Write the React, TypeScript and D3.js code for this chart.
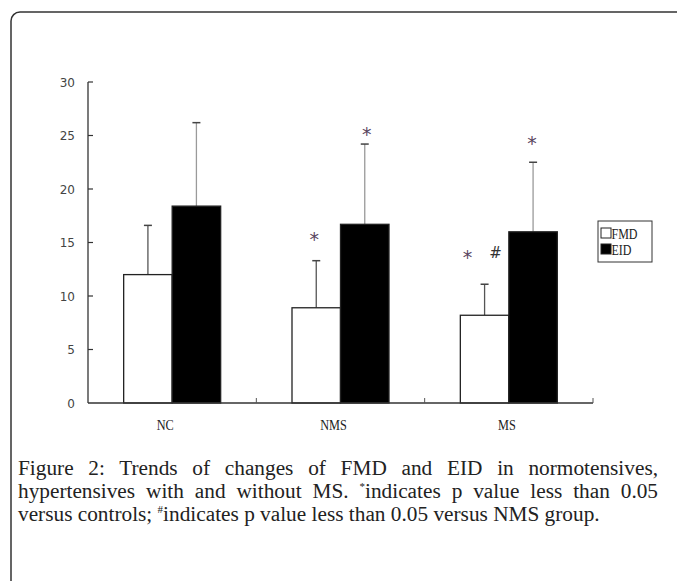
import React, { useLayoutEffect, useRef } from "react";
import * as d3 from "d3";

const categories = ["NC", "NMS", "MS"];
const seriesNames = ["FMD", "EID"];
const fmdMean = [12.0, 8.9, 8.2];
const fmdErr = [16.6, 13.3, 11.1];
const eidMean = [18.4, 16.7, 16.0];
const eidErr = [26.2, 24.2, 22.5];
const yTicks = [0, 5, 10, 15, 20, 25, 30];
// significance markers: category, series, y value (data units), symbol, pixel nudge
const marks = [
  { cat: "NMS", series: "FMD", y: 15.5, sym: "*", dx: -2 },
  { cat: "NMS", series: "EID", y: 25.3, sym: "*", dx: 2 },
  { cat: "MS", series: "FMD", y: 13.8, sym: "*", dx: -17 },
  { cat: "MS", series: "FMD", y: 14.0, sym: "#", dx: 11 },
  { cat: "MS", series: "EID", y: 24.5, sym: "*", dx: -1 },
];
const captionLines = [
  "Figure 2: Trends of changes of FMD and EID in normotensives,",
  "hypertensives with and without MS. ",
  "versus controls; ",
];

export default function App() {
  const W = 677, H = 581;
  const x0 = 88, x1 = 593, yTop = 82, yBot = 403;
  const x = d3.scaleBand().domain(categories).range([x0, x1]).padding(0);
  const y = d3.scaleLinear().domain([0, 30]).range([yBot, yTop]);
  const barW = 48.5;
  const sx = (cat: string, s: string) => {
    const c = (x(cat) as number) + x.bandwidth() / 2;
    return s === "FMD" ? c - barW : c;
  };
  const data = categories.flatMap((c, i) => [
    { cat: c, s: "FMD", v: fmdMean[i], e: fmdErr[i] },
    { cat: c, s: "EID", v: eidMean[i], e: eidErr[i] },
  ]);
  const boundaries = categories.map((c) => (x(c) as number) + x.bandwidth());
  const capFont = "'Liberation Serif', 'Times New Roman', serif";
  const l1 = useRef<SVGTextElement>(null);
  const l2 = useRef<SVGTextElement>(null);
  useLayoutEffect(() => {
    [l1, l2].forEach((r) => {
      const el = r.current;
      if (!el) return;
      el.setAttribute("word-spacing", "0");
      const len = el.getComputedTextLength();
      const spaces = (el.textContent || "").split(" ").length - 1;
      const ws = (640 - len) / spaces;
      el.setAttribute("word-spacing", String(ws));
    });
  }, []);
  const capSize = 21.3;
  return (
    <svg width={W} height={H} style={{ position: "absolute", left: 0, top: 0, background: "#fff" }}>
      <rect x={0} y={0} width={W} height={H} fill="#fff" />
      <rect x={11} y={12} width={720} height={620} rx={9} fill="none" stroke="#333" strokeWidth={1.5} />
      {/* bars */}
      {data.map((d, i) => {
        const bx = sx(d.cat, d.s);
        const cx = bx + barW / 2;
        return (
          <g key={i}>
            <line x1={cx} x2={cx} y1={y(d.v)} y2={y(d.e)} stroke={d.s === "FMD" ? "#555" : "#9a9a9a"} strokeWidth={1.3} />
            <line x1={cx - 4} x2={cx + 4} y1={y(d.e)} y2={y(d.e)} stroke="#444" strokeWidth={1.5} />
            <rect x={bx} y={y(d.v)} width={barW} height={yBot - y(d.v)}
              fill={d.s === "FMD" ? "#fff" : "#000"} stroke="#222" strokeWidth={1.3} />
          </g>
        );
      })}
      {/* axes */}
      <line x1={x0} x2={x0} y1={yTop} y2={yBot} stroke="#333" strokeWidth={1.3} />
      <line x1={x0} x2={x1} y1={yBot} y2={yBot} stroke="#333" strokeWidth={1.3} />
      {yTicks.map((t) => (
        <g key={t}>
          {t > 0 && <line x1={x0} x2={x0 + 5} y1={y(t)} y2={y(t)} stroke="#333" strokeWidth={1.2} />}
          <text x={75} y={y(t) + 4.5} textAnchor="end" fontFamily="'DejaVu Sans', sans-serif" fontSize={12} fill="#444">{t}</text>
        </g>
      ))}
      {boundaries.map((b, i) => (
        <line key={i} x1={b} x2={b} y1={yBot} y2={yBot - 5} stroke="#555" strokeWidth={1} />
      ))}
      {categories.map((c, i) => {
        const cx = (x(c) as number) + x.bandwidth() / 2 - [7, 7, 2][i];
        return (
          <text key={c} transform={`translate(${cx},430) scale(0.82,1)`} textAnchor="middle"
            fontFamily={capFont} fontSize={15} fill="#222">{c}</text>
        );
      })}
      {/* significance markers */}
      {marks.map((m, i) => (
        <text key={i} x={sx(m.cat, m.series) + barW / 2 + m.dx} y={y(m.y) + (m.sym === "*" ? 9 : 5)}
          textAnchor="middle" fontFamily="'DejaVu Sans', sans-serif" fontSize={m.sym === "*" ? 19 : 15}
          fill={m.sym === "*" ? "#5a4660" : "#333"}>{m.sym}</text>
      ))}
      {/* legend */}
      <rect x={598} y={221} width={54} height={41} fill="#fff" stroke="#333" strokeWidth={1} />
      {seriesNames.map((s, i) => (
        <g key={s}>
          <rect x={601} y={228 + i * 16} width={10} height={10} fill={s === "FMD" ? "#fff" : "#000"} stroke="#222" strokeWidth={1} />
          <text transform={`translate(611.5,238.5) translate(0,${i * 16}) scale(0.8,1)`} fontFamily={capFont} fontSize={15} fill="#222">{s}</text>
        </g>
      ))}
      {/* caption */}
      <text ref={l1} x={18} y={475} fontFamily={capFont} fontSize={capSize} fill="#222">{captionLines[0]}</text>
      <text ref={l2} x={18} y={498} fontFamily={capFont} fontSize={capSize} fill="#222">
        {captionLines[1]}<tspan fontSize={11} dy={-8}>*</tspan><tspan dy={8}>indicates p value less than 0.05</tspan>
      </text>
      <text x={18} y={521} fontFamily={capFont} fontSize={capSize} fill="#222">
        {captionLines[2]}<tspan fontSize={11} dy={-8}>#</tspan><tspan dy={8}>indicates p value less than 0.05 versus NMS group.</tspan>
      </text>
    </svg>
  );
}
